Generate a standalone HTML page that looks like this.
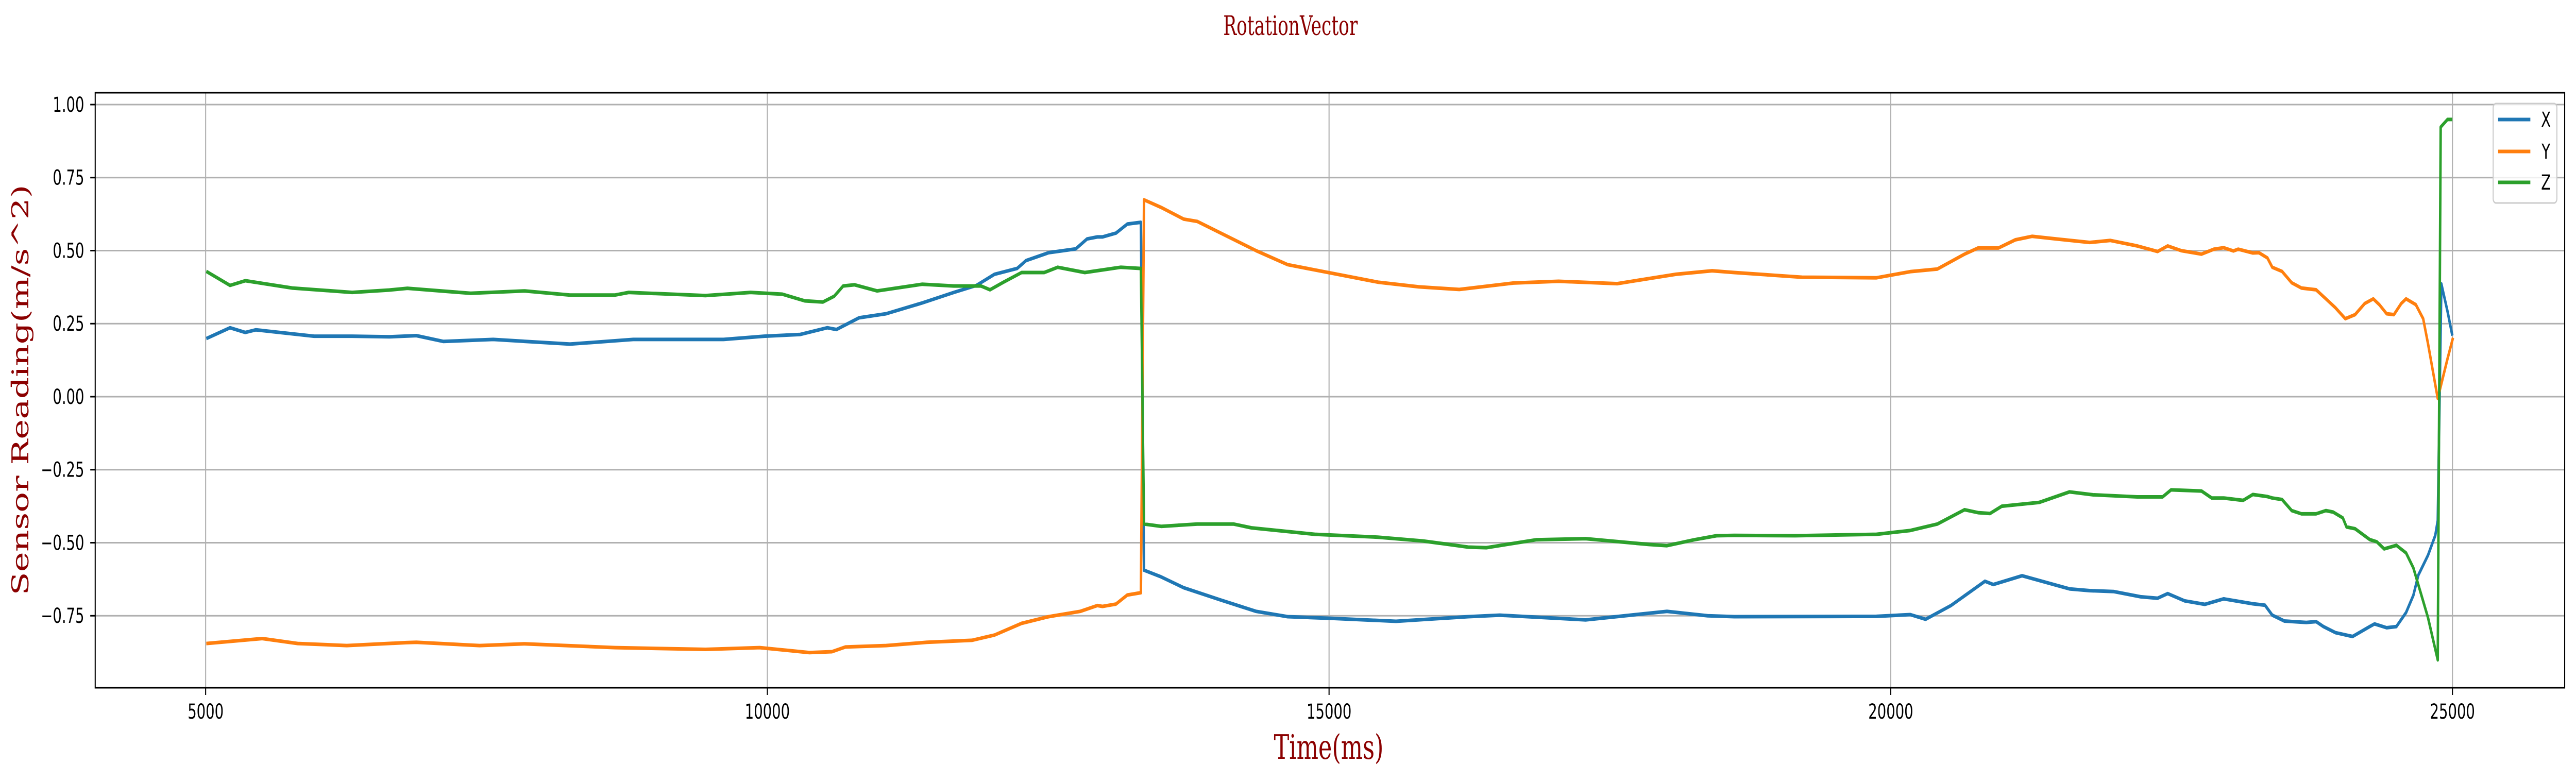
<!DOCTYPE html>
<html><head><meta charset="utf-8"><style>
html,body{margin:0;padding:0;background:#fff;width:100%;height:100%;overflow:hidden;}
svg{display:block;position:absolute;left:0;top:0;width:100vw;height:100vh;}
</style></head><body>
<svg id="chart" viewBox="0 0 7278 1516" preserveAspectRatio="none" xmlns="http://www.w3.org/2000/svg">
<rect x="0" y="0" width="7278" height="1516" fill="#fff"/>
<g id="grid"></g>
<g id="series"></g>
<rect x="269" y="180" width="6977" height="1155" fill="none" stroke="#000" stroke-width="3"/>
<g id="ticks"></g>
<text x="3646" y="68" text-anchor="middle" font-family="DejaVu Serif, Liberation Serif, serif" font-size="52" fill="#8b0000" textLength="380" lengthAdjust="spacingAndGlyphs">RotationVector</text>
<text x="3754" y="1473" text-anchor="middle" font-family="DejaVu Serif, Liberation Serif, serif" font-size="66" fill="#8b0000" textLength="310" lengthAdjust="spacingAndGlyphs">Time(ms)</text>
<text x="0" y="0" transform="translate(80,757) rotate(-90)" text-anchor="middle" font-family="DejaVu Serif, Liberation Serif, serif" font-size="66" fill="#8b0000" textLength="797" lengthAdjust="spacingAndGlyphs">Sensor Reading(m/s^2)</text>
<g id="legend">
<rect x="7044" y="201" width="180" height="193" rx="8" fill="#fff" fill-opacity="0.8" stroke="#ccc" stroke-width="3"/>
<line x1="7058" y1="232" x2="7149" y2="232" stroke="#1f77b4" stroke-width="7"/>
<text x="7193" y="246" text-anchor="middle" font-family="DejaVu Sans, Liberation Sans, sans-serif" font-size="40">X</text>
<line x1="7058" y1="294" x2="7149" y2="294" stroke="#ff7f0e" stroke-width="7"/>
<text x="7193" y="308" text-anchor="middle" font-family="DejaVu Sans, Liberation Sans, sans-serif" font-size="40">Y</text>
<line x1="7058" y1="354" x2="7149" y2="354" stroke="#2ca02c" stroke-width="7"/>
<text x="7193" y="368" text-anchor="middle" font-family="DejaVu Sans, Liberation Sans, sans-serif" font-size="40">Z</text>
</g>
</svg>
<script>
const xTicks = [5000, 10000, 15000, 20000, 25000];
const yTicks = [-0.75, -0.5, -0.25, 0, 0.25, 0.5, 0.75, 1.0];
const yTickLabels = ["\u22120.75", "\u22120.50", "\u22120.25", "0.00", "0.25", "0.50", "0.75", "1.00"];

const xTime = [5006,5217,5353,5447,5965,6304,6635,6876,7117,7560,8243,8806,9610,9972,10293,10534,10615,10816,11057,11379,11660,11861,12022,12223,12303,12504,12745,12846,12938,12983,13103,13204,13325,13353,13505,13706,14028,14350,14631,15033,15596,16239,16520,17284,17807,18008,18370,18607,19873,20174,20310,20536,20838,20913,21169,21591,21771,21983,22224,22375,22465,22616,22796,22963,23223,23331,23396,23504,23699,23786,23851,23959,24111,24263,24306,24414,24501,24587,24652,24696,24782,24847,24869,24901,24956,24999];
const xValues = [0.199,0.236,0.220,0.229,0.207,0.207,0.205,0.209,0.189,0.196,0.180,0.196,0.196,0.207,0.213,0.236,0.230,0.270,0.284,0.321,0.357,0.381,0.419,0.439,0.466,0.493,0.506,0.540,0.547,0.547,0.560,0.591,0.597,-0.594,-0.617,-0.654,-0.695,-0.735,-0.753,-0.759,-0.769,-0.753,-0.748,-0.764,-0.743,-0.735,-0.750,-0.753,-0.752,-0.746,-0.762,-0.715,-0.632,-0.643,-0.613,-0.658,-0.664,-0.667,-0.685,-0.690,-0.674,-0.699,-0.711,-0.692,-0.709,-0.714,-0.748,-0.768,-0.773,-0.770,-0.787,-0.808,-0.821,-0.787,-0.778,-0.791,-0.787,-0.739,-0.680,-0.611,-0.543,-0.475,-0.424,0.386,0.292,0.209];

const yTime = [5006,5504,5819,6256,6786,6876,7439,7841,8645,9449,9932,10374,10575,10695,11057,11419,11821,12022,12263,12504,12786,12938,12983,13103,13204,13325,13353,13505,13706,13827,14350,14631,15033,15435,15797,16159,16641,17043,17565,17807,18088,18410,18607,19210,19873,20174,20415,20657,20777,20958,21109,21259,21470,21771,21953,22194,22375,22465,22585,22766,22876,22963,23050,23093,23223,23277,23353,23396,23483,23569,23656,23786,23873,23959,24046,24133,24219,24295,24349,24414,24479,24544,24587,24674,24739,24782,24869,24956,25005];
const yValues = [-0.845,-0.828,-0.845,-0.852,-0.842,-0.841,-0.852,-0.846,-0.859,-0.865,-0.859,-0.876,-0.873,-0.857,-0.852,-0.841,-0.834,-0.816,-0.776,-0.753,-0.735,-0.715,-0.718,-0.710,-0.679,-0.671,0.674,0.648,0.608,0.600,0.500,0.452,0.422,0.392,0.376,0.367,0.389,0.395,0.387,0.402,0.419,0.431,0.425,0.409,0.407,0.428,0.437,0.488,0.509,0.509,0.537,0.549,0.540,0.528,0.535,0.516,0.497,0.516,0.500,0.488,0.505,0.510,0.499,0.505,0.492,0.493,0.475,0.443,0.429,0.390,0.372,0.366,0.335,0.304,0.267,0.281,0.319,0.335,0.315,0.284,0.281,0.319,0.335,0.315,0.267,0.182,-0.006,0.130,0.202];

const zTime = [5006,5217,5353,5772,6304,6635,6796,7359,7841,8243,8645,8766,9449,9851,10133,10333,10494,10595,10675,10776,10977,11379,11660,11901,11982,12102,12263,12464,12585,12826,13144,13325,13353,13505,13827,14149,14310,14872,15435,15837,16239,16400,16842,17284,17847,18008,18249,18450,18607,19149,19873,20174,20415,20657,20777,20883,20988,21320,21591,21802,22194,22420,22495,22766,22857,22963,23136,23223,23353,23396,23483,23569,23656,23786,23873,23938,24024,24057,24133,24263,24327,24392,24501,24587,24652,24782,24869,24895,24956,24999];
const zValues = [0.429,0.381,0.397,0.372,0.357,0.365,0.371,0.354,0.362,0.348,0.348,0.357,0.346,0.357,0.351,0.328,0.324,0.344,0.379,0.383,0.362,0.385,0.379,0.379,0.366,0.392,0.425,0.425,0.443,0.425,0.443,0.439,-0.436,-0.444,-0.436,-0.436,-0.449,-0.471,-0.481,-0.494,-0.515,-0.517,-0.490,-0.486,-0.506,-0.510,-0.490,-0.476,-0.475,-0.476,-0.471,-0.458,-0.436,-0.387,-0.397,-0.400,-0.375,-0.362,-0.326,-0.336,-0.343,-0.343,-0.319,-0.323,-0.347,-0.347,-0.355,-0.335,-0.342,-0.347,-0.352,-0.390,-0.401,-0.401,-0.390,-0.395,-0.415,-0.446,-0.452,-0.489,-0.497,-0.521,-0.509,-0.535,-0.586,-0.756,-0.901,0.923,0.949,0.949];

const NS = "http://www.w3.org/2000/svg";
function xScale(t){ return 581 + (t - 5000) / 5000 * 1587; }
function yScale(v){ return 770 - v * 567; }
const grid = document.getElementById('grid');
const ticks = document.getElementById('ticks');
const series = document.getElementById('series');

xTicks.forEach(function(t){
  const x = xScale(t);
  const gl = document.createElementNS(NS, 'line');
  
  
  gl.setAttribute('x1', x); gl.setAttribute('x2', x);
  gl.setAttribute('y1', 180); gl.setAttribute('y2', 1335);
  gl.setAttribute('stroke', '#b0b0b0'); gl.setAttribute('stroke-width', '3');
  grid.appendChild(gl);
  const tk = document.createElementNS(NS, 'line');
  
  
  tk.setAttribute('x1', x); tk.setAttribute('x2', x);
  tk.setAttribute('y1', 1335); tk.setAttribute('y2', 1349);
  tk.setAttribute('stroke', '#000'); tk.setAttribute('stroke-width', '3');
  ticks.appendChild(tk);
  const tx = document.createElementNS(NS, 'text');
  
  
  tx.setAttribute('x', x); tx.setAttribute('y', 1395);
  tx.setAttribute('text-anchor', 'middle');
  tx.setAttribute('font-family', 'DejaVu Sans, Liberation Sans, sans-serif');
  tx.setAttribute('font-size', '40');
  tx.textContent = String(t);
  ticks.appendChild(tx);
});

yTicks.forEach(function(v, i){
  const y = yScale(v);
  const gl = document.createElementNS(NS, 'line');
  
  
  gl.setAttribute('x1', 269); gl.setAttribute('x2', 7246);
  gl.setAttribute('y1', y); gl.setAttribute('y2', y);
  gl.setAttribute('stroke', '#b0b0b0'); gl.setAttribute('stroke-width', '3');
  grid.appendChild(gl);
  const tk = document.createElementNS(NS, 'line');
  
  
  tk.setAttribute('x1', 255); tk.setAttribute('x2', 269);
  tk.setAttribute('y1', y); tk.setAttribute('y2', y);
  tk.setAttribute('stroke', '#000'); tk.setAttribute('stroke-width', '3');
  ticks.appendChild(tk);
  const tx = document.createElementNS(NS, 'text');
  
  
  tx.setAttribute('x', 238); tx.setAttribute('y', y + 14);
  tx.setAttribute('text-anchor', 'end');
  tx.setAttribute('font-family', 'DejaVu Sans, Liberation Sans, sans-serif');
  tx.setAttribute('font-size', '40');
  tx.textContent = yTickLabels[i];
  ticks.appendChild(tx);
});

function drawSeries(times, values, color, name){
  const p = document.createElementNS(NS, 'polyline');
  
  
  p.setAttribute('points', times.map(function(t, i){ return xScale(t).toFixed(1) + ',' + yScale(values[i]).toFixed(1); }).join(' '));
  p.setAttribute('fill', 'none');
  p.setAttribute('stroke', color);
  p.setAttribute('stroke-width', '7');
  p.setAttribute('stroke-linejoin', 'round');
  series.appendChild(p);
}
drawSeries(xTime, xValues, '#1f77b4', 'series-x-line');
drawSeries(yTime, yValues, '#ff7f0e', 'series-y-line');
drawSeries(zTime, zValues, '#2ca02c', 'series-z-line');
</script>
</body></html>
